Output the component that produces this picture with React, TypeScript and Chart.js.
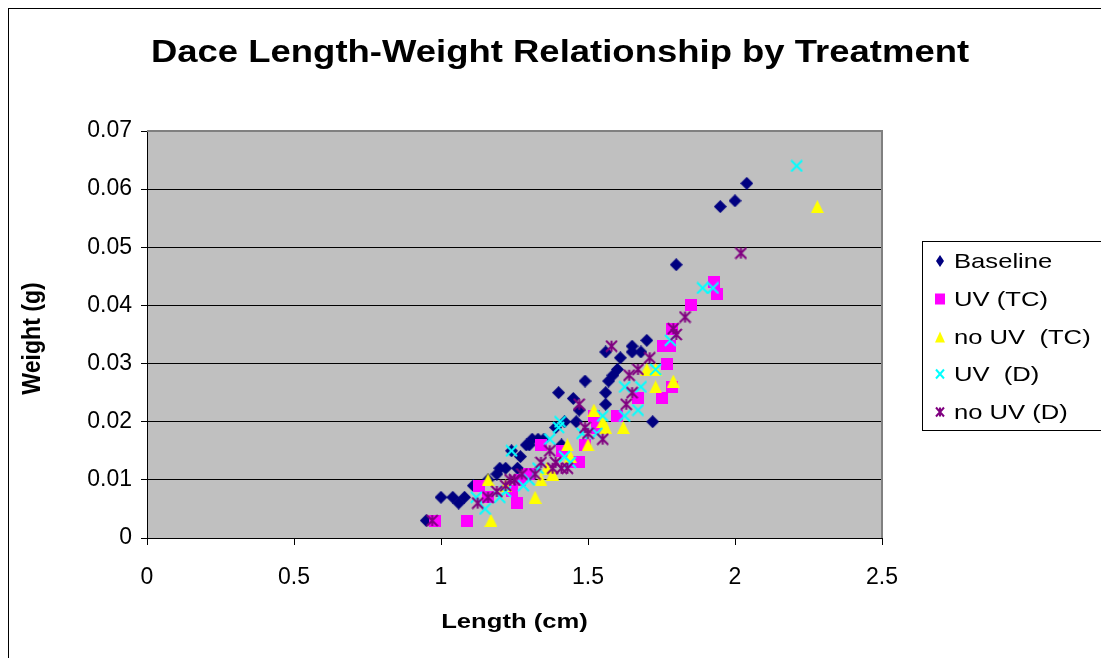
import React, { useEffect, useRef } from "react";
import { Chart, registerables } from "chart.js";

Chart.register(...registerables);

// ---- Data (Length cm, Weight g) ----
const baseline: [number, number][] = [
  [0.95, 0.003], [1.0, 0.007], [1.04, 0.007], [1.06, 0.006], [1.08, 0.007], [1.11, 0.009],
  [1.16, 0.01], [1.19, 0.011], [1.2, 0.012], [1.22, 0.012], [1.24, 0.015], [1.26, 0.012],
  [1.27, 0.014], [1.29, 0.016], [1.3, 0.016], [1.31, 0.017], [1.33, 0.017], [1.35, 0.017],
  [1.39, 0.019], [1.4, 0.025], [1.41, 0.016], [1.42, 0.02], [1.45, 0.024], [1.46, 0.02],
  [1.47, 0.022], [1.49, 0.027], [1.56, 0.032], [1.56, 0.025], [1.56, 0.023], [1.57, 0.027],
  [1.585, 0.028], [1.6, 0.029], [1.61, 0.031], [1.65, 0.033], [1.65, 0.032], [1.68, 0.032],
  [1.7, 0.034], [1.72, 0.02], [1.8, 0.047], [1.95, 0.057], [2.0, 0.058], [2.04, 0.061],
];
const uvTC: [number, number][] = [
  [0.98, 0.003], [1.09, 0.003], [1.13, 0.009], [1.16, 0.007], [1.24, 0.008], [1.26, 0.006],
  [1.27, 0.01], [1.3, 0.011], [1.34, 0.016], [1.41, 0.015], [1.45, 0.013], [1.47, 0.013],
  [1.49, 0.016], [1.52, 0.021], [1.53, 0.019], [1.6, 0.021], [1.67, 0.024], [1.75, 0.024],
  [1.755, 0.033], [1.78, 0.033], [1.77, 0.03], [1.785, 0.026], [1.785, 0.036], [1.85, 0.04],
  [1.93, 0.044], [1.94, 0.042],
];
const noUvTC: [number, number][] = [
  [1.16, 0.01], [1.17, 0.003], [1.22, 0.009], [1.32, 0.007], [1.34, 0.01], [1.36, 0.012],
  [1.38, 0.011], [1.43, 0.016], [1.44, 0.014], [1.5, 0.016], [1.52, 0.022], [1.55, 0.02],
  [1.56, 0.019], [1.62, 0.019], [1.7, 0.029], [1.73, 0.026], [1.73, 0.029], [1.79, 0.027],
  [2.28, 0.057],
];
const uvD: [number, number][] = [
  [1.12, 0.007], [1.15, 0.005], [1.2, 0.007], [1.22, 0.008], [1.24, 0.015], [1.28, 0.009],
  [1.3, 0.01], [1.33, 0.012], [1.37, 0.017], [1.4, 0.019], [1.405, 0.02], [1.42, 0.014],
  [1.44, 0.013], [1.48, 0.018], [1.53, 0.018], [1.55, 0.021], [1.625, 0.021], [1.625, 0.026],
  [1.67, 0.022], [1.68, 0.026], [1.73, 0.029], [1.78, 0.034], [1.89, 0.043], [1.925, 0.043],
  [2.21, 0.064],
];
const noUvD: [number, number][] = [
  [0.97, 0.003], [1.125, 0.006], [1.16, 0.007], [1.19, 0.008], [1.22, 0.009], [1.235, 0.01],
  [1.25, 0.01], [1.275, 0.011], [1.32, 0.011], [1.34, 0.013], [1.37, 0.015], [1.38, 0.012],
  [1.39, 0.013], [1.41, 0.012], [1.43, 0.012], [1.47, 0.023], [1.49, 0.019], [1.5, 0.018],
  [1.55, 0.017], [1.58, 0.033], [1.63, 0.023], [1.65, 0.025], [1.64, 0.028], [1.67, 0.029],
  [1.71, 0.031], [1.79, 0.036], [1.8, 0.035], [1.83, 0.038], [2.02, 0.049],
];

const seriesLabels = ["Baseline", "UV (TC)", "no UV  (TC)", "UV  (D)", "no UV (D)"];
const seriesColors = ["#000080", "#FF00FF", "#FFFF00", "#00FFFF", "#800080"];
const seriesShapes = ["diamond", "square", "triangle", "x", "asterisk"];
const seriesData = [baseline, uvTC, noUvTC, uvD, noUvD];

const xTickLabels = ["0", "0.5", "1", "1.5", "2", "2.5"];
const yTickLabels = ["0", "0.01", "0.02", "0.03", "0.04", "0.05", "0.06", "0.07"];

const TITLE = "Dace Length-Weight Relationship by Treatment";
const X_TITLE = "Length (cm)";
const Y_TITLE = "Weight (g)";

const FONT = '"Liberation Sans", Arial, sans-serif';
const STRETCH = 1.22;

function drawShape(
  g: CanvasRenderingContext2D,
  kind: string,
  cx: number,
  cy: number,
  w: number,
  h: number,
  color: string
) {
  const hw = w / 2, hh = h / 2;
  g.save();
  g.fillStyle = color;
  g.strokeStyle = color;
  g.lineWidth = 2;
  g.beginPath();
  if (kind === "diamond") {
    g.moveTo(cx, cy - hh);
    g.lineTo(cx + hw, cy);
    g.lineTo(cx, cy + hh);
    g.lineTo(cx - hw, cy);
    g.closePath();
    g.fill();
  } else if (kind === "square") {
    g.fillRect(cx - hw, cy - hh, w, h);
  } else if (kind === "triangle") {
    g.moveTo(cx, cy - hh);
    g.lineTo(cx + hw, cy + hh);
    g.lineTo(cx - hw, cy + hh);
    g.closePath();
    g.fill();
  } else {
    g.moveTo(cx - hw + 1, cy - hh + 1);
    g.lineTo(cx + hw - 1, cy + hh - 1);
    g.moveTo(cx + hw - 1, cy - hh + 1);
    g.lineTo(cx - hw + 1, cy + hh - 1);
    if (kind === "asterisk") {
      g.moveTo(cx, cy - hh + 1);
      g.lineTo(cx, cy + hh - 1);
    }
    g.stroke();
  }
  g.restore();
}

function makeMarker(kind: string, color: string): HTMLCanvasElement {
  const size = kind === "square" ? 12 : 13;
  const c = document.createElement("canvas");
  c.width = size;
  c.height = size;
  const g = c.getContext("2d")!;
  drawShape(g, kind, size / 2, size / 2, size, size, color);
  return c;
}

function stretchedText(
  ctx: CanvasRenderingContext2D,
  text: string,
  x: number,
  y: number,
  font: string,
  align: CanvasTextAlign,
  baseline: CanvasTextBaseline,
  sx: number = STRETCH
) {
  ctx.save();
  ctx.font = font;
  ctx.fillStyle = "#000";
  ctx.textAlign = align;
  ctx.textBaseline = baseline;
  ctx.translate(x, y);
  ctx.scale(sx, 1);
  ctx.fillText(text, 0, 0);
  ctx.restore();
}

const decorPlugin = {
  id: "decor",
  beforeDraw(chart: any) {
    const { ctx, chartArea } = chart;
    ctx.save();
    ctx.fillStyle = "#FFFFFF";
    ctx.fillRect(0, 0, chart.width, chart.height);
    ctx.fillStyle = "#C0C0C0";
    ctx.fillRect(chartArea.left, chartArea.top, chartArea.right - chartArea.left, chartArea.bottom - chartArea.top);
    ctx.restore();
  },
  beforeDatasetsDraw(chart: any) {
    const { ctx, chartArea } = chart;
    ctx.save();
    ctx.strokeStyle = "#808080";
    ctx.lineWidth = 2;
    ctx.beginPath();
    ctx.moveTo(chartArea.left, chartArea.top);
    ctx.lineTo(chartArea.right, chartArea.top);
    ctx.lineTo(chartArea.right, chartArea.bottom);
    ctx.stroke();
    ctx.restore();
  },
  afterDraw(chart: any) {
    const { ctx, chartArea } = chart;
    // outer frame
    ctx.save();
    ctx.strokeStyle = "#000";
    ctx.lineWidth = 1;
    ctx.strokeRect(8.5, 8.5, 1300, 1300);
    ctx.restore();

    // title
    stretchedText(ctx, TITLE, 560, 62, `bold 32px ${FONT}`, "center", "alphabetic", 1.14);
    // x title
    stretchedText(ctx, X_TITLE, (chartArea.left + chartArea.right) / 2, 628, `bold 21px ${FONT}`, "center", "alphabetic");
    // y title (rotated)
    ctx.save();
    ctx.font = `bold 21px ${FONT}`;
    ctx.fillStyle = "#000";
    ctx.textAlign = "center";
    ctx.textBaseline = "alphabetic";
    ctx.translate(40, (chartArea.top + chartArea.bottom) / 2 + 4);
    ctx.rotate(-Math.PI / 2);
    ctx.scale(1.1, STRETCH);
    ctx.fillText(Y_TITLE, 0, 0);
    ctx.restore();

    // legend
    ctx.save();
    ctx.strokeStyle = "#000";
    ctx.lineWidth = 1;
    ctx.strokeRect(922.5, 241.5, 300, 189);
    ctx.restore();
    const ys = [261, 299, 337, 374, 412];
    const lw = [8, 10, 10, 10, 10];
    const lh = [12, 11, 11, 11, 11];
    seriesLabels.forEach((lab, i) => {
      drawShape(ctx, seriesShapes[i], 940, ys[i], lw[i], lh[i], seriesColors[i]);
      stretchedText(ctx, lab, 954, ys[i] + 1, `21px ${FONT}`, "left", "middle");
    });
  },
};

export default function App() {
  const ref = useRef<HTMLCanvasElement | null>(null);

  useEffect(() => {
    if (!ref.current) return;
    const datasets = seriesData.map((pts, i) => ({
      label: seriesLabels[i],
      data: pts.map(([x, y]) => ({ x, y })),
      pointStyle: makeMarker(seriesShapes[i], seriesColors[i]) as any,
      pointRadius: 6,
      backgroundColor: seriesColors[i],
      borderColor: seriesColors[i],
      showLine: false,
      order: seriesData.length - i,
    }));

    const chart = new Chart(ref.current, {
      type: "scatter",
      data: { datasets },
      options: {
        responsive: false,
        animation: false,
        devicePixelRatio: 1,
        layout: { padding: { left: 0, top: 131, right: 219, bottom: 0 } },
        plugins: {
          legend: { display: false },
          tooltip: { enabled: false },
          title: { display: false },
        },
        scales: {
          x: {
            type: "linear",
            min: 0,
            max: 2.5,
            ticks: {
              stepSize: 0.5,
              color: "#000",
              font: { family: FONT, size: 23 },
              padding: 19,
              maxRotation: 0,
              autoSkip: false,
              callback: (v: any) => xTickLabels[Math.round(Number(v) / 0.5)] ?? "",
            },
            grid: {
              drawOnChartArea: false,
              drawTicks: true,
              tickLength: 7,
              tickColor: "#000",
            },
            border: { color: "#000", width: 1 },
            afterFit: (s: any) => {
              s.height = 120;
            },
          },
          y: {
            type: "linear",
            min: 0,
            max: 0.07,
            ticks: {
              stepSize: 0.01,
              color: "#000",
              font: { family: FONT, size: 23 },
              padding: 9,
              autoSkip: false,
              callback: (v: any) => yTickLabels[Math.round(Number(v) / 0.01)] ?? "",
            },
            grid: {
              color: (c: any) => (c.tick && Math.round(c.tick.value * 100) === 7 ? "#808080" : "#000"),
              lineWidth: 1,
              drawTicks: true,
              tickLength: 6,
              tickColor: "#000",
            },
            border: { color: "#000", width: 1 },
            afterFit: (s: any) => {
              s.width = 147;
            },
          },
        },
      },
      plugins: [decorPlugin],
    });
    return () => chart.destroy();
  }, []);

  return (
    <div style={{ position: "absolute", left: 0, top: 0, width: 1101, height: 658 }}>
      <canvas ref={ref} width={1101} height={658} style={{ display: "block", width: 1101, height: 658 }} />
    </div>
  );
}
